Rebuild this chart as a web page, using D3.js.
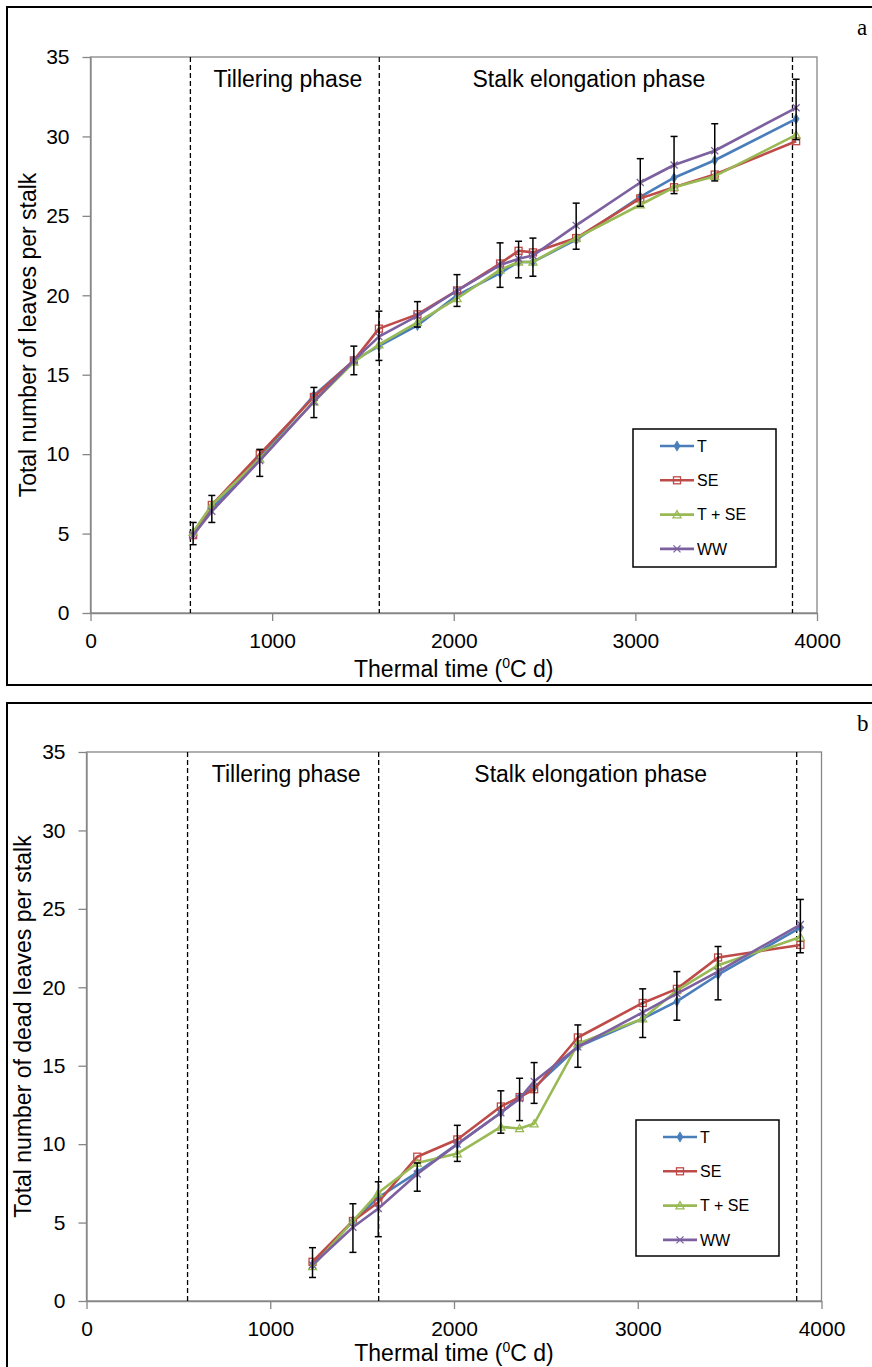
<!DOCTYPE html>
<html>
<head>
<meta charset="utf-8">
<script src="https://cdn.jsdelivr.net/npm/d3@7"></script>
<style>
  body { margin: 0; background: #fff; }
  svg text { font-family: "Liberation Sans", Arial, sans-serif; fill: #000; }
</style>
</head>
<body>
<svg id="chart" width="872" height="1367"></svg>
<script>
'use strict'

// thermal time of each sampling (0C d)
var thermalTime = [565, 668, 932, 1230, 1450, 1588, 1800, 2018, 2255, 2357, 2436, 2674, 3027, 3213, 3437, 3885];

var seriesNames = ["T", "SE", "T + SE", "WW"];
var seriesColors = ["#4A7EBB", "#BE4B48", "#98B954", "#7D60A0"];
var seriesMarkers = ["diamond", "square", "triangle", "cross"];

// panel a : total number of leaves per stalk
var totalT   = [5.0, 6.6, 9.8, 13.7, 15.9, 16.8, 18.1, 20.0, 21.4, 22.1, 22.1, 23.5, 26.2, 27.4, 28.5, 31.1];
var totalSE  = [4.9, 6.8, 10.0, 13.6, 15.9, 17.9, 18.8, 20.3, 22.0, 22.8, 22.7, 23.6, 26.1, 26.8, 27.6, 29.7];
var totalTSE = [5.1, 6.8, 9.7, 13.3, 15.8, 16.9, 18.3, 19.8, 21.6, 22.1, 22.1, 23.6, 25.7, 26.8, 27.5, 30.1];
var totalWW  = [4.9, 6.4, 9.6, 13.3, 15.9, 17.4, 18.7, 20.3, 21.9, 22.3, 22.5, 24.4, 27.1, 28.2, 29.1, 31.8];
var totalErrLow  = [4.3, 5.7, 8.6, 12.3, 15.0, 15.9, 18.0, 19.3, 20.5, 21.1, 21.2, 22.9, 25.6, 26.4, 27.2, 29.8];
var totalErrHigh = [5.7, 7.4, 10.3, 14.2, 16.8, 19.0, 19.6, 21.3, 23.3, 23.4, 23.6, 25.8, 28.6, 30.0, 30.8, 33.6];

// panel b : total number of dead leaves per stalk (from 1230 0C d)
var deadTime = thermalTime.slice(3);
var deadT   = [2.3, 5.1, 6.6, 8.2, 10.0, 12.0, 13.0, 13.6, 16.2, 18.0, 19.1, 20.8, 23.8];
var deadSE  = [2.5, 5.1, 6.3, 9.2, 10.3, 12.4, 13.0, 13.5, 16.8, 19.0, 19.9, 21.9, 22.7];
var deadTSE = [2.2, 5.1, 6.9, 8.8, 9.4, 11.1, 11.0, 11.3, 16.4, 18.0, 19.8, 21.4, 23.2];
var deadWW  = [2.3, 4.7, 5.9, 8.1, 10.0, 12.0, 12.9, 14.0, 16.2, 18.4, 19.6, 21.0, 24.0];
var deadErrLow  = [1.5, 3.1, 4.1, 7.0, 8.9, 10.7, 11.5, 12.6, 14.9, 16.8, 17.9, 19.2, 22.2];
var deadErrHigh = [3.4, 6.2, 7.6, 8.8, 11.2, 13.4, 14.2, 15.2, 17.6, 19.9, 21.0, 22.6, 25.6];

var phaseBounds = [550, 1590, 3865];
var phaseLabels = ["Tillering phase", "Stalk elongation phase"];
var xTicks = [0, 1000, 2000, 3000, 4000];
var yTicks = [0, 5, 10, 15, 20, 25, 30, 35];

var panels = [
  {
    letter: "a", boxTop: 7, boxBottom: 685,
    left: 90.5, right: 817, top: 57, bottom: 613,
    time: thermalTime, series: [totalT, totalSE, totalTSE, totalWW],
    errLow: totalErrLow, errHigh: totalErrHigh,
    yTitle: "Total number of leaves per stalk", yTitleX: 36,
    legend: { x: 633, y: 429, w: 143, h: 138 },
    xTitleY: 677
  },
  {
    letter: "b", boxTop: 703, boxBottom: 1400,
    left: 86.5, right: 821.5, top: 752, bottom: 1301,
    time: deadTime, series: [deadT, deadSE, deadTSE, deadWW],
    errLow: deadErrLow, errHigh: deadErrHigh,
    yTitle: "Total number of dead leaves per stalk", yTitleX: 31,
    legend: { x: 636, y: 1120, w: 143, h: 136 },
    xTitleY: 1361
  }
];

var svg = d3.select("#chart");
var axisGray = "#868686";

function marker(sel, type, color) {
  if (type === "diamond") {
    sel.append("path").attr("d", d3.symbol(d3.symbolDiamond, 30)())
      .attr("fill", color).attr("stroke", color).attr("stroke-width", 0.8);
  } else if (type === "square") {
    sel.append("rect").attr("x", -3.5).attr("y", -3.5).attr("width", 7).attr("height", 7)
      .attr("fill", "none").attr("stroke", color).attr("stroke-width", 1.3);
  } else if (type === "triangle") {
    sel.append("path").attr("d", "M0,-4L4,3.2L-4,3.2Z")
      .attr("fill", "none").attr("stroke", color).attr("stroke-width", 1.3);
  } else {
    sel.append("path").attr("d", "M-3.5,-3.5L3.5,3.5M-3.5,3.5L3.5,-3.5")
      .attr("fill", "none").attr("stroke", color).attr("stroke-width", 1.3);
  }
}

panels.forEach(function(p) {
  var x = d3.scaleLinear().domain([0, 4000]).range([p.left, p.right]);
  var y = d3.scaleLinear().domain([0, 35]).range([p.bottom, p.top]);

  // outer frame
  svg.append("rect")
    .attr("x", 7).attr("y", p.boxTop)
    .attr("width", 900).attr("height", p.boxBottom - p.boxTop)
    .attr("fill", "none").attr("stroke", "#000").attr("stroke-width", 2);

  svg.append("text")
    .attr("x", 857).attr("y", p.boxTop + 28)
    .style("font-family", "'Liberation Serif', 'Times New Roman', serif")
    .style("font-size", "23px")
    .text(p.letter);

  // plot area border
  svg.append("rect")
    .attr("x", p.left).attr("y", p.top)
    .attr("width", p.right - p.left).attr("height", p.bottom - p.top)
    .attr("fill", "none").attr("stroke", axisGray).attr("stroke-width", 1.3);

  var xAxis = d3.axisBottom(x).tickValues(xTicks).tickFormat(d3.format("d"))
    .tickSize(8).tickSizeOuter(0);
  var gx = svg.append("g")
    .attr("transform", "translate(0," + p.bottom + ")")
    .call(xAxis);
  gx.select(".domain").attr("stroke", axisGray).attr("stroke-width", 1.3);
  gx.selectAll(".tick line").attr("stroke", axisGray).attr("stroke-width", 1.3);
  gx.selectAll(".tick text")
    .attr("y", 35).attr("dy", null)
    .style("font-size", "21px").attr("fill", "#000");

  var yAxis = d3.axisLeft(y).tickValues(yTicks).tickSize(8).tickPadding(13).tickSizeOuter(0);
  var gy = svg.append("g")
    .attr("transform", "translate(" + p.left + ",0)")
    .call(yAxis);
  gy.select(".domain").attr("stroke", axisGray).attr("stroke-width", 1.3);
  gy.selectAll(".tick line").attr("stroke", axisGray).attr("stroke-width", 1.3);
  gy.selectAll(".tick text").style("font-size", "21px").attr("fill", "#000");

  // axis titles
  var xt = svg.append("text")
    .attr("x", (p.left + p.right) / 2).attr("y", p.xTitleY)
    .attr("text-anchor", "middle")
    .style("font-size", "23px");
  xt.append("tspan").text("Thermal time (");
  xt.append("tspan").attr("dy", -9).style("font-size", "14px").text("0");
  xt.append("tspan").attr("dy", 9).text("C d)");

  svg.append("text")
    .attr("transform", "translate(" + p.yTitleX + "," + (p.top + p.bottom) / 2 + ") rotate(-90)")
    .attr("text-anchor", "middle")
    .style("font-size", "23px")
    .text(p.yTitle);

  // phase boundaries
  svg.selectAll(null)
    .data(phaseBounds)
    .enter()
    .append("line")
    .attr("x1", function(d) { return x(d); })
    .attr("x2", function(d) { return x(d); })
    .attr("y1", p.top).attr("y2", p.bottom)
    .attr("stroke", "#000").attr("stroke-width", 1.3)
    .attr("stroke-dasharray", "5,3");

  svg.selectAll(null)
    .data(phaseLabels)
    .enter()
    .append("text")
    .attr("x", function(d, i) { return (x(phaseBounds[i]) + x(phaseBounds[i + 1])) / 2 + 3; })
    .attr("y", p.top + 30)
    .attr("text-anchor", "middle")
    .style("font-size", "23px")
    .text(function(d) { return d; });

  // series lines + markers
  var line = d3.line()
    .x(function(d, i) { return x(p.time[i]); })
    .y(function(d) { return y(d); });

  p.series.forEach(function(vals, s) {
    svg.append("path")
      .datum(vals)
      .attr("d", line)
      .attr("fill", "none")
      .attr("stroke", seriesColors[s])
      .attr("stroke-width", 2.6)
      .attr("stroke-linejoin", "round");

    svg.selectAll(null)
      .data(vals)
      .enter()
      .append("g")
      .attr("transform", function(d, i) { return "translate(" + x(p.time[i]) + "," + y(d) + ")"; })
      .each(function() { marker(d3.select(this), seriesMarkers[s], seriesColors[s]); });
  });

  // error bars
  var eb = svg.selectAll(null)
    .data(p.time)
    .enter()
    .append("g")
    .attr("stroke", "#000").attr("stroke-width", 1.5);
  eb.append("line")
    .attr("x1", function(d) { return x(d); }).attr("x2", function(d) { return x(d); })
    .attr("y1", function(d, i) { return y(p.errLow[i]); })
    .attr("y2", function(d, i) { return y(p.errHigh[i]); });
  eb.append("line")
    .attr("x1", function(d) { return x(d) - 3.5; }).attr("x2", function(d) { return x(d) + 3.5; })
    .attr("y1", function(d, i) { return y(p.errLow[i]); })
    .attr("y2", function(d, i) { return y(p.errLow[i]); });
  eb.append("line")
    .attr("x1", function(d) { return x(d) - 3.5; }).attr("x2", function(d) { return x(d) + 3.5; })
    .attr("y1", function(d, i) { return y(p.errHigh[i]); })
    .attr("y2", function(d, i) { return y(p.errHigh[i]); });

  // legend
  var lg = svg.append("g").attr("transform", "translate(" + p.legend.x + "," + p.legend.y + ")");
  lg.append("rect")
    .attr("width", p.legend.w).attr("height", p.legend.h)
    .attr("fill", "#fff").attr("stroke", "#000").attr("stroke-width", 1.5);
  var items = lg.selectAll(".item")
    .data(seriesNames)
    .enter()
    .append("g")
    .attr("class", "item")
    .attr("transform", function(d, i) { return "translate(0," + (17 + i * 34.3) + ")"; });
  items.append("line")
    .attr("x1", 27).attr("x2", 61)
    .attr("stroke", function(d, i) { return seriesColors[i]; })
    .attr("stroke-width", 2.6);
  items.append("g")
    .attr("transform", "translate(44,0)")
    .each(function(d, i) { marker(d3.select(this), seriesMarkers[i], seriesColors[i]); });
  items.append("text")
    .attr("x", 64).attr("dy", "0.35em")
    .style("font-size", "16px")
    .text(function(d) { return d; });
});
</script>
</body>
</html>
